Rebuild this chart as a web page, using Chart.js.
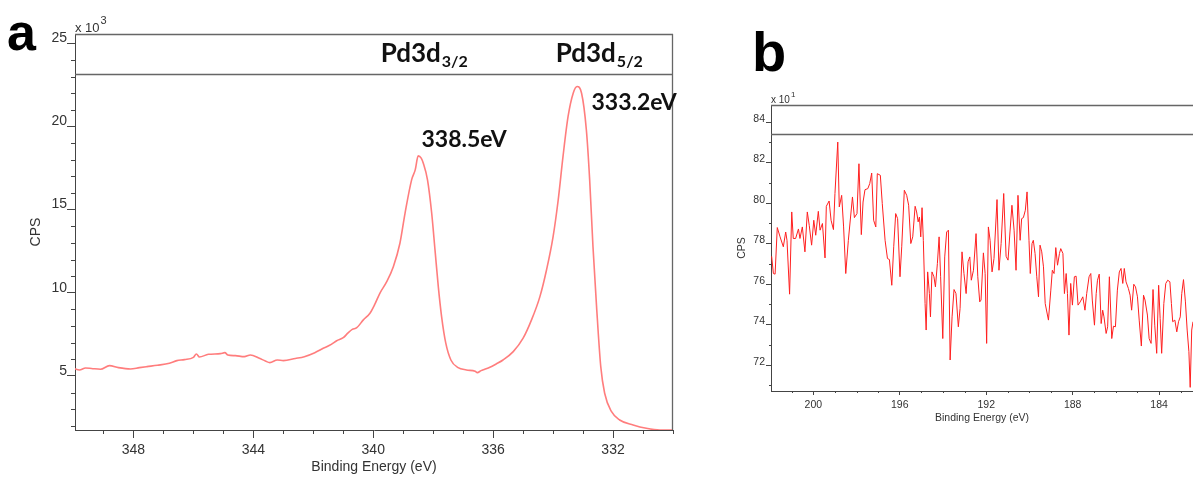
<!DOCTYPE html>
<html><head><meta charset="utf-8">
<script src="https://cdn.jsdelivr.net/npm/chart.js@4.4.1/dist/chart.umd.min.js"></script>
<style>
html,body{margin:0;padding:0;background:#fff;overflow:hidden;width:1193px;height:477px;}
#wa{position:absolute;left:0;top:0;width:700px;height:477px;}
#wb{position:absolute;left:730px;top:0;width:463px;height:430px;}
</style></head><body>
<div id="wa"><canvas id="ca" width="700" height="477"></canvas></div>
<div id="wb"><canvas id="cb" width="463" height="430"></canvas></div>
<script>
// ---------- Panel a : Pd 3d (CPS x 10^3) ----------
const energyA = [350.0,349.8,349.6,349.4,349.1,348.8,348.5,348.1,347.8,347.55,
347.2,346.8,346.55,346.3,346.0,345.9,345.8,345.5,345.1,344.95,
344.85,344.6,344.3,344.1,343.8,343.6,343.45,343.2,343.0,342.6,
342.3,341.95,341.67,341.4,341.22,341.0,340.85,340.7,340.55,340.33,
340.11,339.95,339.78,339.55,339.33,339.11,338.94,338.72,338.6,338.5,
338.4,338.33,338.19,338.05,337.94,337.83,337.72,337.58,337.41,337.17,
336.89,336.6,336.53,336.4,336.28,336.11,335.9,335.67,335.33,335.0,
334.72,334.44,334.22,334.0,333.83,333.67,333.5,333.33,333.2,333.05,
332.89,332.78,332.67,332.55,332.41,332.28,332.05,331.78,331.33,330.89,
330.44,330.0];
const cpsA = [5.46,5.36,5.48,5.45,5.40,5.62,5.50,5.42,5.50,5.56,
5.64,5.76,5.92,5.98,6.12,6.32,6.14,6.30,6.34,6.40,
6.26,6.22,6.16,6.26,6.06,5.90,5.80,5.96,5.92,6.05,
6.16,6.40,6.66,6.90,7.12,7.30,7.57,7.80,7.90,8.37,
8.77,9.30,9.97,10.67,11.57,12.98,14.78,16.79,17.39,18.23,
18.10,17.79,16.79,14.78,12.58,10.37,8.57,6.97,5.96,5.50,
5.36,5.28,5.20,5.32,5.40,5.52,5.72,5.96,6.46,7.27,
8.37,9.77,11.37,13.38,15.58,18.19,20.60,22.00,22.40,22.00,
19.79,16.79,12.78,9.17,5.56,3.96,2.85,2.35,2.05,1.85,
1.75,1.75];
const xTicksA = [348,344,340,336,332];
const yTicksA = [5,10,15,20,25];
const peakTextA = ['338.5eV','333.2eV'];
const peakNameA = ['Pd3d','Pd3d'];
const peakSubA = ['3/2','5/2'];

// ---------- Panel b : (CPS x 10^1) ----------
const energyB = [201.93,201.85,201.77,201.67,201.54,201.39,201.28,201.22,201.10,201.00,200.93,200.82,200.69,200.62,200.51,200.39,200.28,200.19,200.08,199.98,199.89,199.77,199.69,199.58,199.46,199.40,199.27,199.18,199.07,199.00,198.87,198.80,198.69,198.60,198.50,198.38,198.19,198.10,197.98,197.89,197.78,197.70,197.61,197.48,197.39,197.30,197.21,197.11,197.04,196.90,196.81,196.68,196.57,196.48,196.37,196.28,196.19,196.10,195.99,195.91,195.79,195.68,
195.59,195.49,195.40,195.29,195.22,195.15,195.09,195.03,194.97,194.91,194.83,194.78,194.71,194.63,194.58,194.51,194.42,194.35,194.26,194.18,194.11,194.01,193.92,193.83,193.75,193.67,193.58,193.49,193.40,193.29,193.21,193.12,193.03,192.93,192.84,192.76,192.69,192.59,192.47,192.39,192.30,192.24,192.13,192.05,191.98,191.90,191.82,191.73,191.64,191.50,191.41,191.31,191.19,191.08,190.99,190.90,190.81,190.71,190.62,190.53,190.43,190.36,190.28,190.19,190.11,190.02,189.96,189.88,189.82,189.74,189.66,189.58,189.51,189.43,189.35,189.27,
189.12,189.01,188.94,188.86,188.78,188.70,188.61,188.55,188.45,188.38,188.30,188.24,188.17,188.09,188.01,187.92,187.84,187.75,187.65,187.53,187.43,187.35,187.24,187.16,187.09,186.99,186.91,186.85,186.77,186.68,186.61,186.55,186.45,186.38,186.30,186.19,186.11,186.02,185.93,185.84,185.76,185.68,185.61,185.53,185.42,185.34,185.27,185.17,185.09,185.00,184.92,184.82,184.72,184.65,184.54,184.46,184.37,184.28,184.20,184.11,184.02,183.95,183.88,183.78,183.69,183.60,183.50,183.43,183.37,183.27,183.18,183.10,183.02,182.95,182.87,182.78,182.70,182.62,182.56,182.49,182.43];
const cpsB = [77.37,76.52,76.49,78.79,78.33,77.84,78.57,78.16,75.50,79.56,78.25,78.25,78.72,78.25,78.82,77.59,79.56,78.90,77.92,79.15,78.41,79.59,78.66,78.99,77.29,79.84,80.10,79.15,78.69,80.47,83.01,79.81,80.38,78.82,76.52,78.16,80.30,79.28,79.48,81.94,78.44,80.05,80.66,80.71,80.96,81.48,79.15,78.82,81.45,81.37,79.97,78.16,77.26,77.21,75.94,77.84,79.48,79.23,76.36,77.84,80.63,80.38,
79.89,78.00,78.33,79.84,79.56,79.07,79.31,78.33,79.77,78.16,75.04,73.73,76.60,75.53,74.38,76.60,76.36,75.86,77.01,78.33,76.36,73.31,77.34,78.57,78.66,72.25,74.38,75.73,75.53,73.89,74.79,77.59,76.52,75.53,77.10,77.34,76.19,76.68,78.49,76.36,75.12,75.21,77.54,76.52,73.07,78.82,78.16,76.60,77.26,80.17,76.68,78.00,80.47,77.37,77.18,78.57,79.89,78.66,76.68,80.38,78.16,79.23,79.28,79.64,80.55,78.16,76.52,78.00,78.16,77.51,76.36,75.37,77.92,77.59,76.85,75.04,
74.22,75.70,76.68,76.52,77.80,76.93,77.51,77.75,77.51,75.53,76.52,75.53,73.48,76.03,74.96,76.36,76.39,74.96,75.12,75.37,74.71,75.53,76.36,76.52,75.21,73.97,75.53,76.19,76.49,74.05,74.71,74.38,73.56,73.89,76.36,73.31,73.92,73.89,75.70,76.60,76.77,76.03,76.77,76.11,75.78,75.45,74.71,75.99,75.86,75.37,74.22,72.94,75.45,75.21,74.47,73.31,73.07,75.73,73.97,72.58,75.94,74.30,72.58,75.04,76.03,76.19,76.11,75.04,74.14,74.22,73.64,74.14,74.38,75.53,76.22,75.12,73.73,72.66,70.90,73.73,74.14];
const xTicksB = [200,196,192,188,184];
const yTicksB = [72,74,76,78,80,82,84];

Chart.defaults.font.family = "'Liberation Sans', Arial, sans-serif";
Chart.defaults.color = '#333';

function stepTicks(min, max, step) {
  const out = [];
  for (let v = Math.ceil(min / step - 1e-9) * step; v <= max + 1e-9; v += step) out.push({ value: Math.round(v * 1e6) / 1e6 });
  return out;
}
const isIn = (arr, v) => arr.some(t => Math.abs(t - v) < 1e-6);

const minorTicks = {
  id: 'minorTicks',
  afterDraw(chart, args, o) {
    const { ctx } = chart, xs = chart.scales.x, ys = chart.scales.y;
    ctx.save();
    ctx.strokeStyle = o.color; ctx.lineWidth = 1;
    xs.ticks.forEach(t => {
      if (isIn(o.xMajor, t.value)) return;
      const px = Math.round(xs.getPixelForValue(t.value)) + 0.5;
      ctx.beginPath(); ctx.moveTo(px, xs.top); ctx.lineTo(px, xs.top + o.xLen); ctx.stroke();
    });
    ys.ticks.forEach(t => {
      if (isIn(o.yMajor, t.value)) return;
      const py = Math.round(ys.getPixelForValue(t.value)) + 0.5;
      ctx.beginPath(); ctx.moveTo(ys.right - o.yLen, py); ctx.lineTo(ys.right, py); ctx.stroke();
    });
    ctx.restore();
  }
};

const frame = {
  id: 'frame',
  afterDraw(chart, args, o) {
    const { ctx, chartArea: a } = chart, ys = chart.scales.y;
    ctx.save();
    ctx.strokeStyle = o.color; ctx.lineWidth = o.width;
    const hy = Math.round(ys.getPixelForValue(o.header)) + 0.5;
    ctx.beginPath();
    ctx.moveTo(a.left, a.top + 0.5); ctx.lineTo(a.right, a.top + 0.5);
    ctx.moveTo(a.left, hy); ctx.lineTo(a.right, hy);
    if (o.right) { ctx.moveTo(a.right - 0.5, a.top); ctx.lineTo(a.right - 0.5, a.bottom); }
    ctx.stroke();
    // multiplier label
    ctx.fillStyle = '#333'; ctx.textBaseline = 'alphabetic'; ctx.textAlign = 'left';
    ctx.font = o.multSize + "px 'Liberation Sans', Arial, sans-serif";
    ctx.fillText(o.mult, a.left, a.top - 2);
    const w = ctx.measureText(o.mult).width;
    ctx.font = o.expSize + "px 'Liberation Sans', Arial, sans-serif";
    ctx.fillText(o.exp, a.left + w + 1, a.top - 2 - o.expRaise);
    // panel letter
    ctx.fillStyle = '#000';
    ctx.font = "bold " + o.letterSize + "px 'Liberation Sans', Arial, sans-serif";
    ctx.fillText(o.letter, o.letterX, o.letterY);
    ctx.restore();
  }
};

const peakText = {
  id: 'peakText',
  afterDraw(chart, args, o) {
    if (!o.items) return;
    const { ctx } = chart, xs = chart.scales.x, ys = chart.scales.y;
    ctx.save();
    ctx.fillStyle = '#111'; ctx.textBaseline = 'alphabetic'; ctx.textAlign = 'left';
    o.items.forEach(it => {
      const px = xs.getPixelForValue(it.e), py = ys.getPixelForValue(it.v);
      ctx.font = "bold " + it.size + "px Lato, 'Open Sans', sans-serif";
      ctx.fillText(it.text, px, py);
      if (it.sub) {
        const w = ctx.measureText(it.text).width;
        ctx.font = "bold " + it.subSize + "px Lato, 'Open Sans', sans-serif";
        ctx.fillText(it.sub, px + w + 1, py + 5);
      }
    });
    ctx.restore();
  }
};

function axis(opts) {
  return {
    type: 'linear', min: opts.min, max: opts.max, reverse: !!opts.reverse,
    afterBuildTicks: s => { s.ticks = stepTicks(s.min, s.max, 1); },
    afterFit: opts.fit,
    ticks: {
      autoSkip: false, maxRotation: 0, padding: opts.pad, labelOffset: opts.labelOffset || 0,
      color: '#333', font: { size: opts.font },
      callback: v => isIn(opts.major, v) ? String(v) : ''
    },
    grid: {
      drawOnChartArea: false, drawTicks: true, tickLength: opts.tickLen, tickWidth: 1,
      tickColor: c => (c.tick && isIn(opts.major, c.tick.value)) ? '#444' : 'rgba(0,0,0,0)'
    },
    border: { display: true, color: '#444', width: 1 },
    title: { display: true, text: opts.title, color: '#333', font: { size: opts.font }, padding: opts.titlePad }
  };
}

new Chart(document.getElementById('ca'), {
  type: 'line',
  data: { datasets: [{
    data: energyA.map((e, i) => ({ x: e, y: cpsA[i] })),
    borderColor: '#ff7d7d', borderWidth: 1.6, pointRadius: 0, cubicInterpolationMode: 'monotone', fill: false
  }] },
  options: {
    responsive: false, animation: false, events: [],
    layout: { padding: { left: 0, top: 34, right: 27, bottom: 0 } },
    scales: {
      x: axis({ min: 330, max: 349.95, reverse: true, major: xTicksA, fit: s => { s.height = 47; }, pad: 4, font: 14, tickLen: 8,
        title: 'Binding Energy (eV)', titlePad: { top: 0, bottom: 1 } }),
      y: axis({ min: 1.75, max: 25.56, major: yTicksA, fit: s => { s.width = 75; }, pad: 0, labelOffset: -5, font: 14, tickLen: 8,
        title: 'CPS', titlePad: { top: 28, bottom: 0 } })
    },
    plugins: {
      legend: { display: false }, tooltip: { enabled: false },
      minorTicks: { color: '#444', xMajor: xTicksA, yMajor: yTicksA, xLen: 4, yLen: 4 },
      frame: { color: '#666', width: 1.3, header: 23.15, right: true, mult: 'x 10', exp: '3', multSize: 13, expSize: 11, expRaise: 8,
        letter: 'a', letterSize: 52, letterX: 7, letterY: 50 },
      peakText: { items: [
        { text: peakNameA[0], sub: peakSubA[0], e: 339.75, v: 23.9, size: 26, subSize: 16 },
        { text: peakNameA[1], sub: peakSubA[1], e: 333.91, v: 23.9, size: 26, subSize: 16 },
        { text: peakTextA[0], e: 338.39, v: 18.79, size: 23 },
        { text: peakTextA[1], e: 332.72, v: 21.0, size: 23 }
      ] }
    }
  },
  plugins: [minorTicks, frame, peakText]
});

new Chart(document.getElementById('cb'), {
  type: 'line',
  data: { datasets: [{
    data: energyB.map((e, i) => ({ x: e, y: cpsB[i] })),
    borderColor: '#ff1f1f', borderWidth: 1, pointRadius: 0, tension: 0, fill: false
  }] },
  options: {
    responsive: false, animation: false, events: [],
    layout: { padding: { left: 0, top: 105, right: 0, bottom: 0 } },
    scales: {
      x: axis({ min: 182.43, max: 201.96, reverse: true, major: xTicksB, fit: s => { s.height = 39; }, pad: 4, font: 10.5, tickLen: 4,
        title: 'Binding Energy (eV)', titlePad: { top: 0, bottom: 6 } }),
      y: axis({ min: 70.72, max: 84.84, major: yTicksB, fit: s => { s.width = 41; }, pad: 1, labelOffset: -3, font: 10.5, tickLen: 5,
        title: 'CPS', titlePad: { top: 6, bottom: 0 } })
    },
    plugins: {
      legend: { display: false }, tooltip: { enabled: false },
      minorTicks: { color: '#444', xMajor: xTicksB, yMajor: yTicksB, xLen: 2, yLen: 2 },
      frame: { color: '#666', width: 1.3, header: 83.4, right: false, mult: 'x 10', exp: '1', multSize: 10, expSize: 8, expRaise: 6,
        letter: 'b', letterSize: 56, letterX: 22, letterY: 71 },
      peakText: { items: [] }
    }
  },
  plugins: [minorTicks, frame, peakText]
});
</script>
</body></html>
